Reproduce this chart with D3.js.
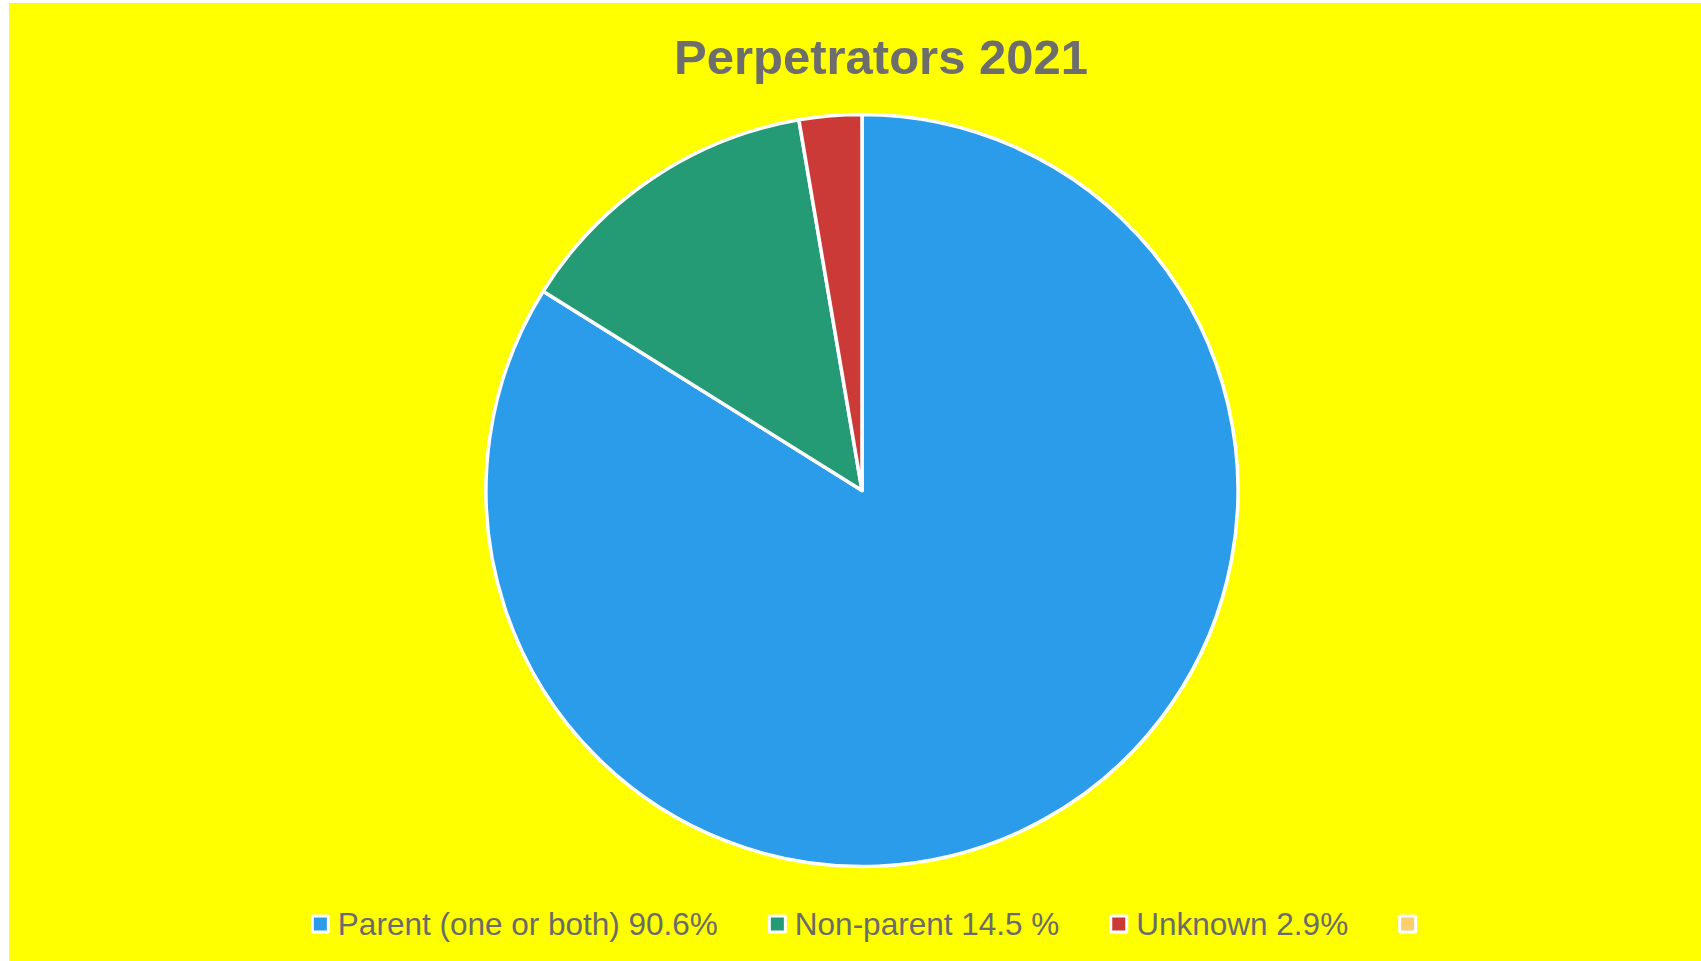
<!DOCTYPE html>
<html>
<head>
<meta charset="utf-8">
<script src="https://cdn.jsdelivr.net/npm/d3@7"></script>
<style>
  html, body { margin: 0; padding: 0; background: #ffffff; }
  svg { display: block; }
</style>
</head>
<body>
<svg id="chart" width="1701" height="961"></svg>
<script>
// Perpetrators 2021 — share by relationship to the child
const categories = ["Parent (one or both)", "Non-parent", "Unknown", ""];
const values = [90.6, 14.5, 2.9, 0];
const legendLabels = ["Parent (one or both) 90.6%", "Non-parent 14.5 %", "Unknown 2.9%", ""];
const colors = ["#2b9ce9", "#249b75", "#cc3a37", "#fbcf6c"];
const title = "Perpetrators 2021";

const W = 1701, H = 961;
const svg = d3.select("#chart");

// chart area background
svg.append("rect")
  .attr("x", 9).attr("y", 3)
  .attr("width", W - 9).attr("height", H - 3)
  .attr("fill", "#ffff00");

// title
svg.append("text")
  .attr("x", 881).attr("y", 74)
  .attr("text-anchor", "middle")
  .attr("font-family", "'Liberation Sans', Arial, sans-serif")
  .attr("font-weight", "bold")
  .attr("font-size", 49)
  .attr("fill", "#6d6d6d")
  .text(title);

// pie
const cx = 862, cy = 490.5, radius = 376;
const data = categories.map((c, i) => ({ name: c, value: values[i], color: colors[i] }));
const pie = d3.pie().sort(null).value(d => d.value);
const arc = d3.arc().innerRadius(0).outerRadius(radius);

svg.append("g")
  .attr("transform", `translate(${cx},${cy})`)
  .selectAll("path")
  .data(pie(data).filter(d => d.data.value > 0))
  .join("path")
  .attr("d", arc)
  .attr("fill", d => d.data.color)
  .attr("stroke", "#ffffff")
  .attr("stroke-width", 3.5)
  .attr("stroke-linejoin", "round");

// legend
const legendY = 924;
const fontSize = 31.5;
const swatch = 19, textGap = 8, itemGap = 50;
const legend = svg.append("g");

const items = legend.selectAll("g.item")
  .data(data)
  .join("g")
  .attr("class", "item");

items.append("rect")
  .attr("x", 0).attr("y", -swatch / 2)
  .attr("width", swatch).attr("height", swatch)
  .attr("rx", 2)
  .attr("fill", "#ffffff");

items.append("rect")
  .attr("x", 3).attr("y", -swatch / 2 + 3)
  .attr("width", swatch - 6).attr("height", swatch - 6)
  .attr("fill", d => d.color);

items.append("text")
  .attr("x", swatch + textGap)
  .attr("y", 0)
  .attr("dy", "0.35em")
  .attr("font-family", "'Liberation Sans', Arial, sans-serif")
  .attr("font-size", fontSize)
  .attr("fill", "#6b6b6b")
  .text((d, i) => legendLabels[i]);

// lay out items in a row, centred under the pie
let offsets = [], xPos = 0;
items.each(function(d, i) {
  const tw = d3.select(this).select("text").node().getComputedTextLength();
  offsets.push(xPos);
  const w = swatch + (tw > 0 ? textGap + tw : 0);
  xPos += w + itemGap;
});
const total = xPos - itemGap;
const startX = cx + 2 - total / 2;
items.attr("transform", (d, i) => `translate(${startX + offsets[i]},${legendY})`);
</script>
</body>
</html>
